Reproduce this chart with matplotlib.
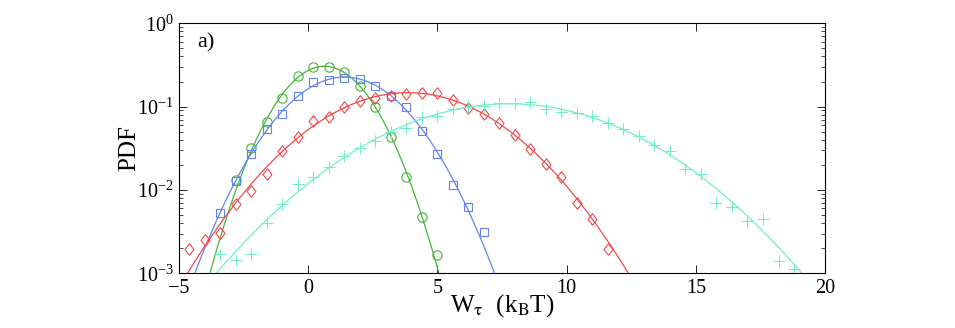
import numpy as np
from matplotlib import pyplot as plt

# work bins (k_B T), common spacing of 0.6
x_green = np.array([-2.8, -2.2, -1.6, -1.0, -0.4, 0.2, 0.8, 1.4, 2.0, 2.6,
                    3.2, 3.8, 4.4, 5.0])
pdf_green = np.array([0.0132, 0.0321, 0.0653, 0.128, 0.231, 0.296, 0.296,
                      0.260, 0.178, 0.098, 0.0435, 0.0142, 0.0047, 0.00166])

x_blue = np.array([-3.4, -2.8, -2.2, -1.6, -1.0, -0.4, 0.2, 0.8, 1.4, 2.0,
                   2.6, 3.2, 3.8, 4.4, 5.0, 5.6, 6.2, 6.8])
pdf_blue = np.array([0.00528, 0.0129, 0.0270, 0.0534, 0.0815, 0.133, 0.196,
                     0.207, 0.222, 0.214, 0.175, 0.133, 0.0989, 0.0514,
                     0.0270, 0.01155, 0.00623, 0.0031])

x_red = np.array([-4.6, -4.0, -3.4, -2.8, -2.2, -1.6, -1.0, -0.4, 0.2, 0.8,
                  1.4, 2.0, 2.6, 3.2, 3.8, 4.4, 5.0, 5.6, 6.2, 6.8, 7.4,
                  8.0, 8.6, 9.2, 9.8, 10.4, 11.0, 11.6])
pdf_red = np.array([0.00195, 0.0025, 0.00306, 0.0067, 0.0098, 0.0154,
                    0.0293, 0.0432, 0.0678, 0.0757, 0.098, 0.116, 0.128,
                    0.135, 0.143, 0.147, 0.144, 0.120, 0.097, 0.0808, 0.064,
                    0.046, 0.031, 0.0203, 0.0143, 0.0069, 0.00448, 0.00194])

x_cyan = np.array([-3.4, -2.8, -2.2, -1.6, -1.0, -0.4, 0.2, 0.8, 1.4, 2.0,
                   2.6, 3.2, 3.8, 4.4, 5.0, 5.6, 6.2, 6.8, 7.4, 8.0, 8.6,
                   9.2, 9.8, 10.4, 11.0, 11.6, 12.2, 12.8, 13.4, 14.0, 14.6,
                   15.2, 15.8, 16.4, 17.0, 17.6, 18.2, 18.8])
pdf_cyan = np.array([0.00169, 0.00143, 0.00169, 0.00397, 0.00683, 0.01167,
                     0.01416, 0.0187, 0.0257, 0.0316, 0.0383, 0.050, 0.0549,
                     0.0743, 0.0778, 0.0936, 0.0998, 0.1017, 0.1096, 0.1096,
                     0.1146, 0.0936, 0.0854, 0.0845, 0.0778, 0.063, 0.0534,
                     0.0444, 0.0346, 0.029, 0.0180, 0.0156, 0.00702, 0.00629,
                     0.00427, 0.00448, 0.0014, 0.00112])

plt.rcParams['font.family'] = 'Liberation Serif'
plt.rcParams['mathtext.fontset'] = 'stix'

# slightly tall open diamond like the original
diamond = [(0, -1), (0.78, 0), (0, 1), (-0.78, 0), (0, -1)]

series = [
    (x_green, pdf_green, 'o', 6.7, '#46b43a'),
    (x_blue, pdf_blue, 's', 5.5, '#6282f2'),
    (x_red, pdf_red, diamond, 8.3, '#f24848'),
    (x_cyan, pdf_cyan, '+', 8.5, '#70efc4'),
]

fig = plt.figure(figsize=(9.55, 3.28), dpi=100)
ax = fig.add_axes([0.1874, 0.1667, 0.6765, 0.7623])

x_fit = np.linspace(-5, 20, 1000)
for x, y, marker, ms, color in series:
    # gaussian fit (parabola in log space)
    coef = np.polyfit(x, np.log(y), 2, w=np.sqrt(y))
    ax.plot(x_fit, np.exp(np.polyval(coef, x_fit)), '-', color=color, lw=0.9)
    ax.plot(x, y, marker=marker, ms=ms, mfc='none', mec=color, mew=0.8,
            linestyle='none')

ax.set_yscale('log')
ax.set_xlim(-5, 20)
ax.set_ylim(1e-3, 1e0)
ax.set_xticks([-5, 0, 5, 10, 15, 20])
ax.set_xticklabels(['\u22125', '0', '5', '10', '15', '20'])
ax.tick_params(which='both', direction='in', top=True, right=True,
               labelsize=14.5, pad=4)
ax.tick_params(which='major', length=6, width=0.6)
ax.tick_params(which='minor', length=3, width=0.5)
ax.tick_params(axis='x', which='minor', bottom=False, top=False)
for sp in ax.spines.values():
    sp.set_linewidth(0.8)

ax.set_ylabel('PDF', fontsize=18, labelpad=-3)
ax.set_xlabel(r'W$_{\mathrm{\tau}}$  (k$_{\mathrm{B}}$T)', fontsize=18,
              labelpad=-4)
ax.text(0.028, 0.92, 'a)', transform=ax.transAxes, fontsize=16,
        ha='left', va='center')

fig.savefig('out.png', dpi=100)
